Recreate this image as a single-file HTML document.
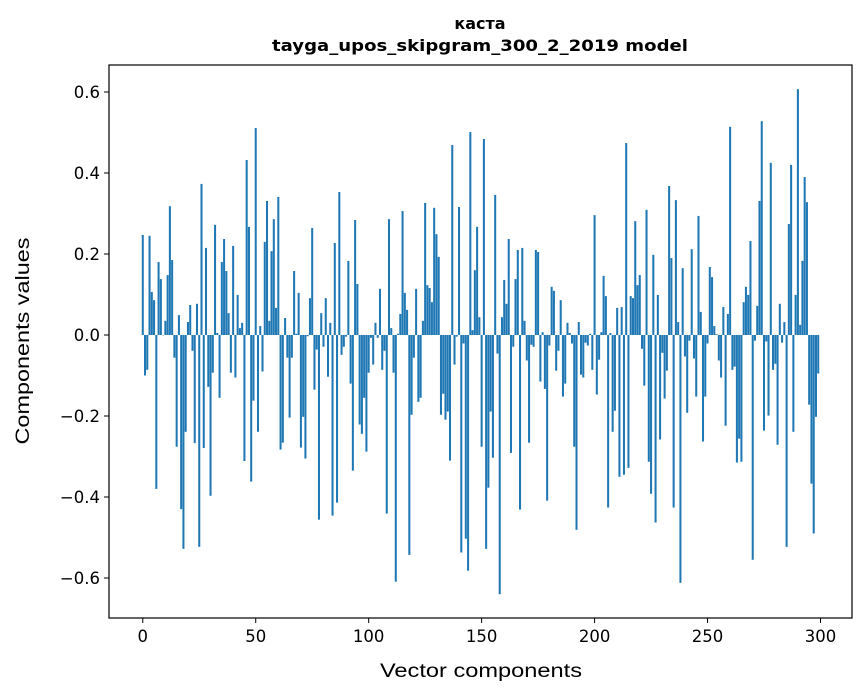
<!DOCTYPE html>
<html><head><meta charset="utf-8">
<style>
html,body{margin:0;padding:0;background:#fff;}
svg{display:block;font-family:"DejaVu Sans","Liberation Sans",sans-serif;}
</style></head>
<body>
<svg id="chart" width="867" height="696" viewBox="0 0 867 696" xmlns="http://www.w3.org/2000/svg">
<rect width="867" height="696" fill="#fff"/>
<text x="480" y="29" text-anchor="middle" font-size="16" font-weight="bold">каста</text>
<text x="480" y="51" text-anchor="middle" font-size="16" font-weight="bold" textLength="416" lengthAdjust="spacingAndGlyphs">tayga_upos_skipgram_300_2_2019 model</text>
<g id="bars"></g>
<g id="xticks"></g>
<g id="yticks"></g>
<rect x="109" y="65" width="743" height="553" fill="none" stroke="#000" stroke-width="1.2"/>
<text x="481" y="677" text-anchor="middle" font-size="19" font-family="Liberation Sans, sans-serif" textLength="202" lengthAdjust="spacingAndGlyphs">Vector components</text>
<text transform="translate(29,341) rotate(-90)" text-anchor="middle" font-size="19" font-family="Liberation Sans, sans-serif" textLength="207" lengthAdjust="spacingAndGlyphs">Components values</text>
</svg>
<script>
const values = [
0.247,-0.10,-0.086,0.245,0.106,0.086,-0.38,0.18,0.138,0.0,
0.035,0.148,0.318,0.185,-0.056,-0.276,0.049,-0.43,-0.528,-0.239,
0.032,0.074,-0.039,-0.267,0.077,-0.523,0.373,-0.279,0.215,-0.128,
-0.397,-0.093,0.272,0.005,-0.155,0.18,0.237,0.158,0.054,-0.093,
0.22,-0.105,0.099,0.017,0.03,-0.311,0.432,0.267,-0.362,-0.162,
0.511,-0.239,0.022,-0.09,0.23,0.331,0.035,0.207,0.286,0.067,
0.341,-0.283,-0.266,0.042,-0.056,-0.204,-0.056,0.158,0.003,0.104,
-0.278,-0.202,-0.305,-0.003,0.091,0.264,-0.135,-0.036,-0.456,0.054,
-0.029,0.091,-0.103,0.03,-0.446,0.227,-0.414,0.353,-0.049,-0.029,
-0.004,0.183,-0.12,-0.335,0.284,0.126,-0.221,-0.244,-0.155,-0.288,
-0.093,-0.007,-0.073,0.03,-0.007,0.114,-0.086,-0.039,-0.441,0.286,
0.017,-0.093,-0.609,0.003,0.052,0.306,0.104,0.062,-0.543,-0.197,
-0.056,0.114,-0.165,-0.155,0.035,0.326,0.123,0.116,0.081,0.314,
0.249,0.193,-0.197,-0.145,-0.209,-0.189,-0.31,0.469,-0.073,-0.004,
0.316,-0.537,-0.021,-0.503,-0.582,0.501,0.012,0.16,0.267,0.044,
-0.276,0.484,-0.528,-0.377,-0.189,-0.303,0.346,-0.046,-0.64,0.044,
0.136,0.077,0.237,-0.291,-0.029,0.138,0.21,-0.431,0.215,0.035,
-0.063,-0.266,-0.024,-0.029,0.21,0.205,-0.115,0.007,-0.133,-0.409,
-0.026,0.119,0.109,-0.088,-0.039,0.086,-0.152,-0.12,0.03,0.005,
-0.021,-0.276,-0.481,0.032,-0.098,-0.105,-0.019,-0.026,0.003,-0.086,
0.296,-0.147,-0.061,0.007,0.146,0.096,-0.426,0.005,-0.239,-0.187,
0.067,-0.35,0.069,-0.345,0.474,-0.328,0.096,0.091,0.281,0.123,
0.148,-0.034,-0.125,0.309,-0.313,-0.392,0.198,-0.463,0.099,-0.258,
-0.044,-0.157,-0.088,0.368,0.19,-0.426,0.333,0.032,-0.612,0.165,
-0.053,-0.192,-0.014,0.212,-0.058,-0.152,0.294,0.057,-0.263,-0.152,
-0.021,0.168,0.143,0.022,0.002,-0.063,-0.105,0.069,-0.224,0.052,
0.514,-0.086,-0.078,-0.315,-0.256,-0.313,0.081,0.119,0.099,0.232,
-0.555,-0.014,0.072,0.331,0.528,-0.236,-0.016,-0.199,0.425,-0.086,
-0.071,-0.271,0.077,-0.019,0.032,-0.523,0.274,0.42,-0.239,0.099,
0.607,0.025,0.183,0.39,0.328,-0.172,-0.367,-0.49,-0.202,-0.095
];
const xTicks = [0,50,100,150,200,250,300];
const yTicks = [-0.6,-0.4,-0.2,0,0.2,0.4,0.6];

const NS = "http://www.w3.org/2000/svg";
const L=109,R=852,T=65,B=618;
const xMin=-14.95,xMax=313.95;
const yZero=335, yScale=405;
function xs(v){return L+(v-xMin)/(xMax-xMin)*(R-L);}
function ys(v){return yZero - v*yScale;}
const bw = 0.9*(R-L)/(xMax-xMin);

const gb=document.getElementById('bars');
values.forEach((v,i)=>{
  const r=document.createElementNS(NS,'rect');
  const y0=ys(0), y1=ys(v);
  r.setAttribute('x',(xs(i)-bw/2).toFixed(2));
  r.setAttribute('y',Math.min(y0,y1).toFixed(2));
  r.setAttribute('width',bw.toFixed(2));
  r.setAttribute('height',Math.max(Math.abs(y1-y0),0.3).toFixed(2));
  r.setAttribute('fill','#1f77b4');
  
  
  gb.appendChild(r);
});
const gx=document.getElementById('xticks');
xTicks.forEach(t=>{
  const l=document.createElementNS(NS,'line');
  l.setAttribute('x1',xs(t));l.setAttribute('x2',xs(t));
  l.setAttribute('y1',B);l.setAttribute('y2',B+5);
  l.setAttribute('stroke','#000');
  
  
  gx.appendChild(l);
  const tx=document.createElementNS(NS,'text');
  tx.setAttribute('x',xs(t));tx.setAttribute('y',B+24);
  tx.setAttribute('text-anchor','middle');tx.setAttribute('font-size','16.5');
  tx.textContent=String(t);
  
  
  gx.appendChild(tx);
});
const gy=document.getElementById('yticks');
yTicks.forEach(t=>{
  const l=document.createElementNS(NS,'line');
  l.setAttribute('x1',L-5);l.setAttribute('x2',L);
  l.setAttribute('y1',ys(t));l.setAttribute('y2',ys(t));
  l.setAttribute('stroke','#000');
  
  
  gy.appendChild(l);
  const tx=document.createElementNS(NS,'text');
  tx.setAttribute('x',L-9);tx.setAttribute('y',ys(t)+6);
  tx.setAttribute('text-anchor','end');tx.setAttribute('font-size','16.5');
  tx.textContent=(t<0?'\u2212':'')+Math.abs(t).toFixed(1);
  
  
  gy.appendChild(tx);
});
</script>
</body></html>
